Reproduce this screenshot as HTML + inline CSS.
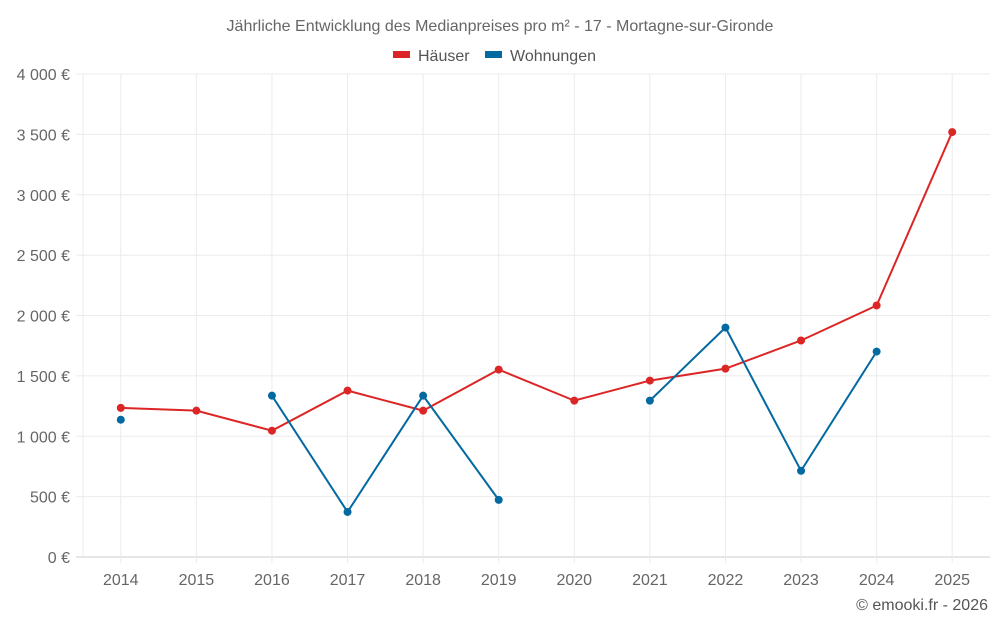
<!DOCTYPE html>
<html><head><meta charset="utf-8"><style>
html,body{margin:0;padding:0;background:#fff;}
svg{display:block;font-family:"Liberation Sans",sans-serif;}
</style></head><body>
<svg id="chart" width="1000" height="625" xmlns="http://www.w3.org/2000/svg">
<text x="500" y="31" text-anchor="middle" font-size="16" fill="#666">Jährliche Entwicklung des Medianpreises pro m² - 17 - Mortagne-sur-Gironde</text>
<g>
<g><rect x="393" y="51" width="17" height="7" fill="#dc2626"/><text x="418" y="61" font-size="16" fill="#555">Häuser</text></g>
<g><rect x="485" y="51" width="17" height="7" fill="#0369a1"/><text x="510" y="61" font-size="16" fill="#555">Wohnungen</text></g>
</g>
<g id="grid"></g><g id="axes"></g><g id="series"></g>
<text x="988" y="610" text-anchor="end" font-size="16" fill="#555">© emooki.fr - 2026</text>
</svg>
<script>
const categories=["2014","2015","2016","2017","2018","2019","2020","2021","2022","2023","2024","2025"];
const haeuser=[1235,1212,1046,1378,1212,1552,1295,1461,1560,1793,2083,3519];
const wohnungen=[1137,null,1336,373,1336,473,null,1295,1900,714,1701,null];
const yTicks=[0,500,1000,1500,2000,2500,3000,3500,4000];
const yLabels=["0 €","500 €","1 000 €","1 500 €","2 000 €","2 500 €","3 000 €","3 500 €","4 000 €"];
const NS="http://www.w3.org/2000/svg";
const L=83,R=990,T=74,B=557;
const step=(R-L)/categories.length;
const x=i=>L+step*(i+0.5);
const y=v=>B-(v/4000)*(B-T);
function mk(tag,attrs,parent){const e=document.createElementNS(NS,tag);for(const k in attrs)e.setAttribute(k,attrs[k]);parent.appendChild(e);return e;}
const grid=document.getElementById('grid'),axes=document.getElementById('axes'),ser=document.getElementById('series');
yTicks.forEach((v,i)=>{
 const l=mk('line',{x1:76,x2:R,y1:y(v),y2:y(v),stroke:i===0?'#ccc':'#ebebeb','stroke-width':1},grid);
 
 
 const t=mk('text',{x:70,y:y(v)+6,'text-anchor':'end','font-size':16,fill:'#666'},axes);
 t.textContent=yLabels[i];
 
 
});
const l0=mk('line',{x1:L,x2:L,y1:T,y2:B,stroke:'#ebebeb'},grid);


categories.forEach((c,i)=>{
 const g=mk('line',{x1:x(i),x2:x(i),y1:T,y2:B+6,stroke:'#ebebeb'},grid);
 
 
 const t=mk('text',{x:x(i),y:585,'text-anchor':'middle','font-size':16,fill:'#666'},axes);
 t.textContent=c;
 
 
});
function draw(data,color,name){
 let d='',pen=false;
 data.forEach((v,i)=>{if(v==null){pen=false;return;}d+=(pen?'L':'M')+x(i)+' '+y(v)+' ';pen=true;});
 const p=mk('path',{d:d,fill:'none',stroke:color,'stroke-width':2},ser);
 
 
 data.forEach((v,i)=>{if(v==null)return;
  const c=mk('circle',{cx:x(i),cy:y(v),r:4,fill:color},ser);
  
  
 });
}
draw(haeuser,'#dc2626','haeuser');
draw(wohnungen,'#0369a1','wohnungen');
</script>
</body></html>
